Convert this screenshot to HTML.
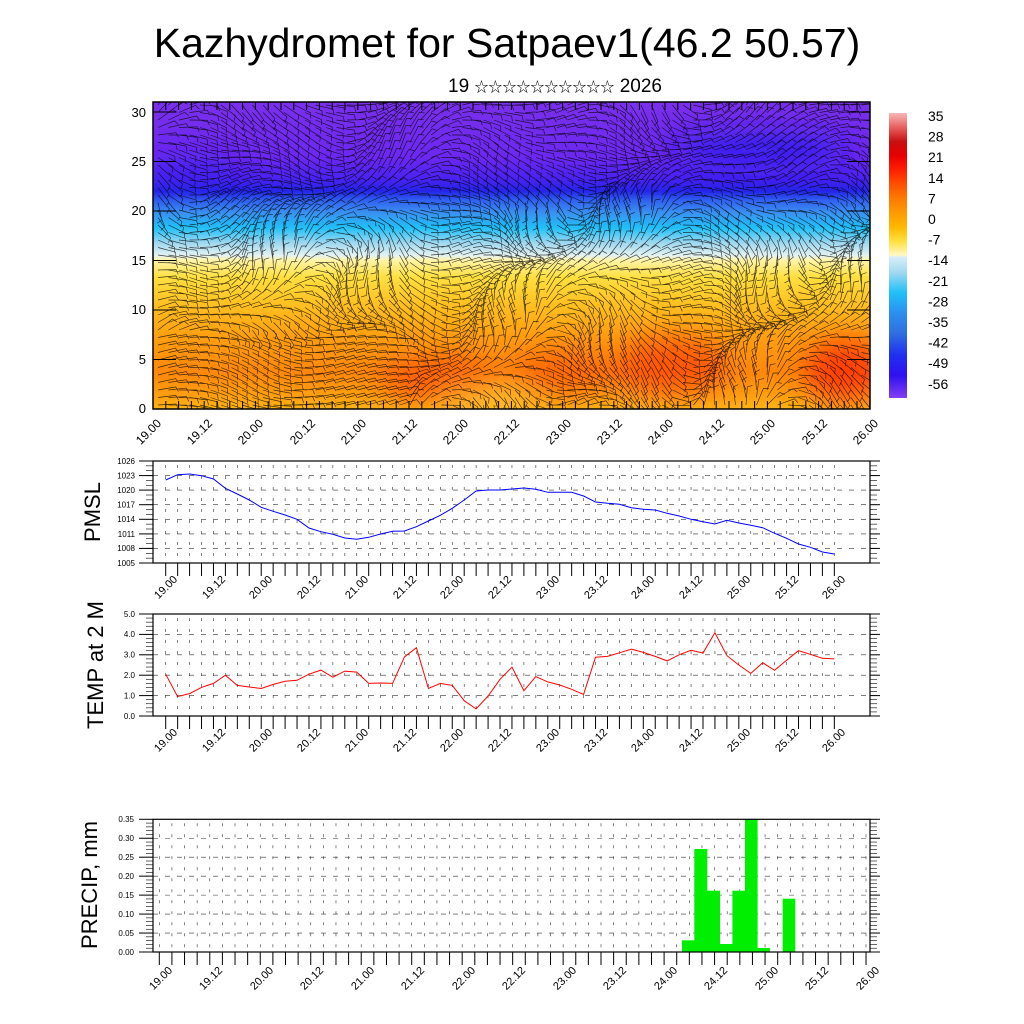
<!DOCTYPE html>
<html><head><meta charset="utf-8"><style>
html,body{margin:0;padding:0;background:#fff;width:1024px;height:1024px;overflow:hidden}
svg{display:block;font-family:"Liberation Sans","Noto Sans CJK SC",sans-serif}
</style></head><body>
<svg id="s" width="1024" height="1024" viewBox="0 0 1024 1024" xmlns="http://www.w3.org/2000/svg">
<defs>
<linearGradient id="fld" x1="0" y1="0" x2="0" y2="1">
<stop offset="0" stop-color="#7a30ea"/><stop offset="0.18" stop-color="#6c28f0"/>
<stop offset="0.25" stop-color="#4a22f0"/><stop offset="0.29" stop-color="#2424e8"/>
<stop offset="0.32" stop-color="#3060f0"/><stop offset="0.36" stop-color="#3a90f0"/>
<stop offset="0.41" stop-color="#20c0f8"/><stop offset="0.46" stop-color="#a0d8f0"/>
<stop offset="0.50" stop-color="#e4f2f2"/><stop offset="0.515" stop-color="#fff4a8"/>
<stop offset="0.57" stop-color="#ffe040"/><stop offset="0.66" stop-color="#ffc020"/>
<stop offset="0.76" stop-color="#ffa010"/><stop offset="0.88" stop-color="#ff880a"/>
<stop offset="0.96" stop-color="#ffa010"/><stop offset="1" stop-color="#ffb414"/>
</linearGradient>
<linearGradient id="cb" x1="0" y1="0" x2="0" y2="1">
<stop offset="0" stop-color="#f8b8b8"/><stop offset="0.05" stop-color="#e86060"/>
<stop offset="0.1" stop-color="#c81010"/><stop offset="0.15" stop-color="#e80000"/>
<stop offset="0.2" stop-color="#ff2000"/><stop offset="0.25" stop-color="#ff5000"/>
<stop offset="0.3" stop-color="#ff7a00"/><stop offset="0.35" stop-color="#ff9a00"/>
<stop offset="0.4" stop-color="#ffb800"/><stop offset="0.45" stop-color="#ffe040"/>
<stop offset="0.5" stop-color="#fff8c8"/><stop offset="0.505" stop-color="#d8eef8"/>
<stop offset="0.56" stop-color="#a0d8f0"/><stop offset="0.63" stop-color="#20c0f8"/>
<stop offset="0.7" stop-color="#2c90f0"/><stop offset="0.77" stop-color="#3070e0"/>
<stop offset="0.85" stop-color="#2030f0"/><stop offset="0.92" stop-color="#3010f0"/>
<stop offset="1" stop-color="#8040f0"/>
</linearGradient>
<clipPath id="cp"><rect x="153" y="102" width="717" height="307"/></clipPath>
<filter id="bl" x="-50%" y="-50%" width="200%" height="200%"><feGaussianBlur stdDeviation="14"/></filter>
</defs>

<text x="507" y="57" font-size="41" text-anchor="middle">Kazhydromet for Satpaev1(46.2 50.57)</text>
<text x="555" y="92" font-size="19" text-anchor="middle">19 <tspan font-size="14">☆☆☆☆☆☆☆☆☆☆</tspan> 2026</text>

<rect x="153" y="102" width="717" height="307" fill="url(#fld)"/>
<g clip-path="url(#cp)"><g filter="url(#bl)">
<ellipse cx="440" cy="380" rx="60" ry="22" fill="#ff4a00" opacity=".7"/>
<ellipse cx="560" cy="372" rx="50" ry="22" fill="#ff5000" opacity=".6"/>
<ellipse cx="670" cy="365" rx="55" ry="28" fill="#ff4000" opacity=".7"/>
<ellipse cx="845" cy="370" rx="40" ry="30" fill="#ff2a00" opacity=".8"/>
<ellipse cx="490" cy="400" rx="50" ry="10" fill="#ffd040" opacity=".8"/>
<ellipse cx="760" cy="150" rx="90" ry="16" fill="#2020f0" opacity=".7"/>
<ellipse cx="190" cy="172" rx="50" ry="12" fill="#3020f0" opacity=".6"/>
</g></g>
<g id="barbs" clip-path="url(#cp)" stroke="#000" stroke-width="0.65" opacity="0.75" fill="none"></g>
<rect x="153" y="102" width="717" height="307" fill="none" stroke="#000" stroke-width="1.5"/>
<g id="topticks" stroke="#000" stroke-width="1"></g>

<g font-size="13" text-anchor="end">
<text x="146" y="413">0</text><text x="146" y="364">5</text><text x="146" y="314">10</text>
<text x="146" y="265">15</text><text x="146" y="215">20</text><text x="146" y="166">25</text><text x="146" y="117">30</text>
</g>
<g font-size="12" text-anchor="end">
<text transform="translate(162,424) rotate(-45)">19.00</text>
<text transform="translate(213,424) rotate(-45)">19.12</text>
<text transform="translate(264,424) rotate(-45)">20.00</text>
<text transform="translate(316,424) rotate(-45)">20.12</text>
<text transform="translate(367,424) rotate(-45)">21.00</text>
<text transform="translate(418,424) rotate(-45)">21.12</text>
<text transform="translate(469,424) rotate(-45)">22.00</text>
<text transform="translate(520,424) rotate(-45)">22.12</text>
<text transform="translate(572,424) rotate(-45)">23.00</text>
<text transform="translate(623,424) rotate(-45)">23.12</text>
<text transform="translate(674,424) rotate(-45)">24.00</text>
<text transform="translate(725,424) rotate(-45)">24.12</text>
<text transform="translate(776,424) rotate(-45)">25.00</text>
<text transform="translate(828,424) rotate(-45)">25.12</text>
<text transform="translate(879,424) rotate(-45)">26.00</text>
</g>

<rect x="889" y="113" width="18" height="285" fill="url(#cb)"/>
<g font-size="14">
<text x="928" y="121">35</text><text x="928" y="141.6">28</text><text x="928" y="162.2">21</text>
<text x="928" y="182.8">14</text><text x="928" y="203.4">7</text><text x="928" y="224">0</text>
<text x="928" y="244.6">-7</text><text x="928" y="265.2">-14</text><text x="928" y="285.8">-21</text>
<text x="928" y="306.4">-28</text><text x="928" y="327">-35</text><text x="928" y="347.6">-42</text>
<text x="928" y="368.2">-49</text><text x="928" y="388.8">-56</text>
</g>

<g id="panels" stroke="#000" fill="none"></g>
<rect x="153" y="461" width="717" height="102" fill="none" stroke="#000" stroke-width="1.2"/>
<rect x="153" y="614" width="717" height="102" fill="none" stroke="#000" stroke-width="1.2"/>
<g fill="#00ee00">
<rect x="682" y="940.3" width="12.6" height="11.7"/>
<rect x="694.3" y="849" width="13" height="103"/>
<rect x="707" y="890.7" width="13" height="61.3"/>
<rect x="719.7" y="944" width="13" height="8"/>
<rect x="732.4" y="890.7" width="13" height="61.3"/>
<rect x="745" y="819.3" width="12.6" height="132.7"/>
<rect x="757.3" y="948" width="12.6" height="4"/>
<rect x="782.7" y="898.7" width="12.6" height="53.3"/>
</g>
<rect x="153" y="819.3" width="717" height="132.7" fill="none" stroke="#000" stroke-width="1.2"/>
<polyline id="pm" fill="none" stroke="#0000ff" stroke-width="1"/>
<polyline id="tp" fill="none" stroke="#ff0000" stroke-width="1"/>

<g font-size="8" text-anchor="end">
<text x="135" y="566">1005</text><text x="135" y="551">1008</text><text x="135" y="537">1011</text>
<text x="135" y="522">1014</text><text x="135" y="507.5">1017</text><text x="135" y="493">1020</text>
<text x="135" y="478.5">1023</text><text x="135" y="464">1026</text>
<text x="135" y="719">0.0</text><text x="135" y="698.5">1.0</text><text x="135" y="678">2.0</text>
<text x="135" y="657.5">3.0</text><text x="135" y="637">4.0</text><text x="135" y="617">5.0</text>
<text x="134" y="955">0.00</text><text x="134" y="936">0.05</text><text x="134" y="917">0.10</text>
<text x="134" y="898">0.15</text><text x="134" y="879">0.20</text><text x="134" y="860">0.25</text>
<text x="134" y="841">0.30</text><text x="134" y="822">0.35</text>
</g>
<g font-size="22" text-anchor="middle">
<text transform="translate(100,512) rotate(-90)">PMSL</text>
<text transform="translate(103,665) rotate(-90)">TEMP at 2 M</text>
<text transform="translate(97,885) rotate(-90)">PRECIP, mm</text>
</g>
<g font-size="11" text-anchor="end">
<text transform="translate(178,580) rotate(-45)">19.00</text>
<text transform="translate(226,580) rotate(-45)">19.12</text>
<text transform="translate(273,580) rotate(-45)">20.00</text>
<text transform="translate(321,580) rotate(-45)">20.12</text>
<text transform="translate(369,580) rotate(-45)">21.00</text>
<text transform="translate(417,580) rotate(-45)">21.12</text>
<text transform="translate(464,580) rotate(-45)">22.00</text>
<text transform="translate(512,580) rotate(-45)">22.12</text>
<text transform="translate(560,580) rotate(-45)">23.00</text>
<text transform="translate(608,580) rotate(-45)">23.12</text>
<text transform="translate(655,580) rotate(-45)">24.00</text>
<text transform="translate(703,580) rotate(-45)">24.12</text>
<text transform="translate(751,580) rotate(-45)">25.00</text>
<text transform="translate(799,580) rotate(-45)">25.12</text>
<text transform="translate(846,580) rotate(-45)">26.00</text>

<text transform="translate(178,733) rotate(-45)">19.00</text>
<text transform="translate(226,733) rotate(-45)">19.12</text>
<text transform="translate(273,733) rotate(-45)">20.00</text>
<text transform="translate(321,733) rotate(-45)">20.12</text>
<text transform="translate(369,733) rotate(-45)">21.00</text>
<text transform="translate(417,733) rotate(-45)">21.12</text>
<text transform="translate(464,733) rotate(-45)">22.00</text>
<text transform="translate(512,733) rotate(-45)">22.12</text>
<text transform="translate(560,733) rotate(-45)">23.00</text>
<text transform="translate(608,733) rotate(-45)">23.12</text>
<text transform="translate(655,733) rotate(-45)">24.00</text>
<text transform="translate(703,733) rotate(-45)">24.12</text>
<text transform="translate(751,733) rotate(-45)">25.00</text>
<text transform="translate(799,733) rotate(-45)">25.12</text>
<text transform="translate(846,733) rotate(-45)">26.00</text>

<text transform="translate(173,971) rotate(-45)">19.00</text>
<text transform="translate(223,971) rotate(-45)">19.12</text>
<text transform="translate(274,971) rotate(-45)">20.00</text>
<text transform="translate(324,971) rotate(-45)">20.12</text>
<text transform="translate(375,971) rotate(-45)">21.00</text>
<text transform="translate(425,971) rotate(-45)">21.12</text>
<text transform="translate(476,971) rotate(-45)">22.00</text>
<text transform="translate(526,971) rotate(-45)">22.12</text>
<text transform="translate(577,971) rotate(-45)">23.00</text>
<text transform="translate(627,971) rotate(-45)">23.12</text>
<text transform="translate(678,971) rotate(-45)">24.00</text>
<text transform="translate(728,971) rotate(-45)">24.12</text>
<text transform="translate(779,971) rotate(-45)">25.00</text>
<text transform="translate(829,971) rotate(-45)">25.12</text>
<text transform="translate(880,971) rotate(-45)">26.00</text>
</g>
</svg>
<script>
(function(){
var NS="http://www.w3.org/2000/svg";
function ln(g,x1,y1,x2,y2,a){var l=document.createElementNS(NS,"line");l.setAttribute("x1",x1);l.setAttribute("y1",y1);l.setAttribute("x2",x2);l.setAttribute("y2",y2);if(a)for(var k in a)l.setAttribute(k,a[k]);g.appendChild(l);}
var b=document.getElementById("barbs"),d="";
for(var x=158;x<870;x+=10.5){for(var y=105;y<409;y+=7.5){
 var a=0.9*Math.sin(x/55+y/38)+0.7*Math.cos(x/31-y/47)+0.5*Math.sin((x+y)/23);
 if(y>330&&x<400)a*=0.25;
 if(y<200)a*=0.6;
 var L=18,ex=x+L*Math.cos(a),ey=y+L*Math.sin(a);
 var px=-Math.sin(a)*5,py=Math.cos(a)*5;
 d+="M"+x.toFixed(1)+" "+y.toFixed(1)+"L"+ex.toFixed(1)+" "+ey.toFixed(1)+"l"+(px+2*Math.cos(a)).toFixed(1)+" "+(py+2*Math.sin(a)).toFixed(1);
}}
var p=document.createElementNS(NS,"path");p.setAttribute("d",d);b.appendChild(p);
var t=document.getElementById("topticks");
for(var i=0;i<=56;i++){var xx=153+i*12.8;ln(t,xx,102,xx,110);ln(t,xx,409,xx,401);}
for(var j=0;j<=6;j++){var yy=409-j*49.5;ln(t,153,yy,176,yy);ln(t,847,yy,870,yy);}
var g=document.getElementById("panels");
function panel(top,bot,x0,dx,ys,minor){
 for(var i=0;i<=56;i++){var xx=x0+i*dx;
  ln(g,xx,bot,xx,bot+13,{"stroke-width":"1"});
  ln(g,xx,top+4,xx,bot,{"stroke-width":"0.6","stroke-dasharray":"3,8","stroke":"#333"});}
 for(var k=1;k<ys.length-1;k++)ln(g,153,ys[k],870,ys[k],{"stroke-width":"0.6","stroke-dasharray":"5,7","stroke":"#333"});
 for(var k=0;k<ys.length;k++){ln(g,139,ys[k],153,ys[k],{"stroke-width":"1"});ln(g,870,ys[k],880,ys[k],{"stroke-width":"1"});}
 var n=(ys.length-1)*minor;for(var m=0;m<=n;m++){var yy=bot-(bot-top)*m/n;ln(g,146,yy,153,yy,{"stroke-width":"0.6"});ln(g,870,yy,877,yy,{"stroke-width":"0.6"});}
}
panel(461,563,165.7,11.94,[563,548.4,533.9,519.3,504.7,490.1,475.6,461],3);
panel(614,716,165.7,11.94,[716,695.6,675.2,654.8,634.4,614],5);
var py=[];for(var i=0;i<8;i++)py.push(952-i*18.96);
panel(819.3,952,159.3,12.62,py,5);
var pm=[90,74,72,77,87,115,132,150,172,184,195,208,234,245,253,264,268,262,252,244,243,230,213,196,175,150,123,120,120,117,114,118,127,127,127,138,156,160,163,173,178,180,190,198,208,215,222,211,219,226,233,250,265,282,292,306,312];
var s="";for(var i=0;i<pm.length;i++)s+=(165.7+i*11.94).toFixed(1)+","+(450+pm[i]/3).toFixed(1)+" ";
document.getElementById("pm").setAttribute("points",s);
var tv=[2.05,0.95,1.1,1.4,1.6,2.0,1.5,1.42,1.35,1.55,1.7,1.75,2.05,2.25,1.9,2.2,2.15,1.6,1.62,1.6,2.9,3.35,1.35,1.6,1.5,0.75,0.35,0.98,1.8,2.39,1.24,1.93,1.67,1.52,1.31,1.06,2.88,2.92,3.1,3.28,3.12,2.92,2.7,3.0,3.22,3.09,4.08,2.96,2.5,2.09,2.61,2.24,2.73,3.2,3.02,2.83,2.8];
s="";for(var i=0;i<tv.length;i++)s+=(165.7+i*11.94).toFixed(1)+","+(716-tv[i]*20.4).toFixed(1)+" ";
document.getElementById("tp").setAttribute("points",s);
})();
</script>
</body></html>
